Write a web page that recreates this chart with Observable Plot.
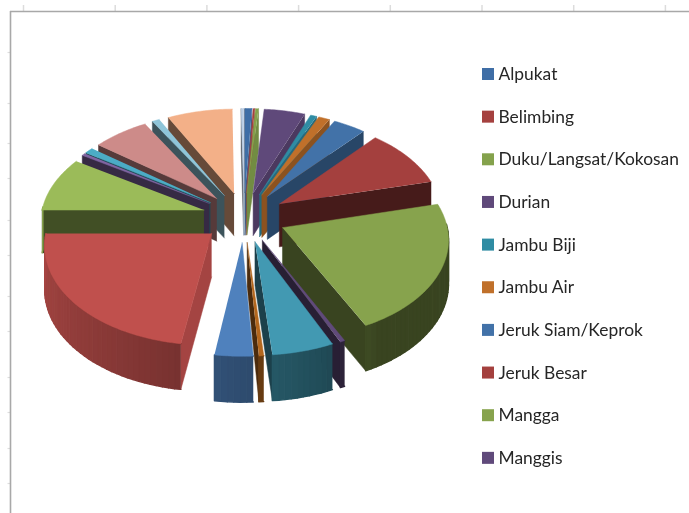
<!DOCTYPE html>
<html><head><meta charset="utf-8">
<script src="https://cdn.jsdelivr.net/npm/d3@7"></script>
<script src="https://cdn.jsdelivr.net/npm/@observablehq/plot@0.6"></script>
<style>html,body{margin:0;padding:0;background:#fff}</style></head>
<body><div id="chart"></div>
<script>
// Legend as visible in the picture (clipped after ten entries)
const legendNames = ["Alpukat","Belimbing","Duku/Langsat/Kokosan","Durian","Jambu Biji","Jambu Air","Jeruk Siam/Keprok","Jeruk Besar","Mangga","Manggis"];
// Slice shares, clockwise from the top (degrees of the pie)
const shares = [2.8,0.7,1.2,16.3,2.5,4.5,13,35,78,1.5,19.5,1.5,12,81.5,32.5,1.5,3.5,22.5,3,26,1];
const sliceColors = ["#3f6ea6","#a5413f","#84a24c","#5f497a","#2f8ca3","#c0702a","#4272a8","#a4403e","#87a34d","#604a7b","#4299b2","#b3671e","#4f81bd","#c0504d","#9bbb59","#8064a2","#4bacc6","#cd8b89","#8ec5d9","#f3b088","#b9cde5"];

const W = 689, H = 513;
const cx = 243.5, cy = 216.5, R = 163, E = 42, tilt = 0.595, persp = 0.1225, depth = 43;
const rad = d => d * Math.PI / 180;
const project = (X, Y, h) => {
  const s = 1 / (1 - persp * Y / 202);
  return [cx + X * s, cy + tilt * Y * s + h * Math.sqrt(s)];
};
const shade = (c, f) => { const q = d3.rgb(c); return d3.rgb(q.r * f, q.g * f, q.b * f).formatHex(); };
const area2 = p => d3.sum(p, (a, i) => { const b = p[(i + 1) % p.length]; return a[0] * b[1] - b[0] * a[1]; });

const arcs = d3.pie().sort(null).value(d => d)(shares);
const slices = arcs.map((a, i) => {
  const a0 = a.startAngle * 180 / Math.PI, a1 = a.endAngle * 180 / Math.PI, m = (a0 + a1) / 2;
  return {i, a0, a1, m, ox: E * Math.sin(rad(m)), oy: -E * Math.cos(rad(m)), c: sliceColors[i], key: -Math.cos(rad(m))};
}).sort((p, q) => p.key - q.key);

const polys = [];
let pid = 0;
const add = (pts, fill, sw) => { pid++; pts.forEach(p => polys.push({x: p[0], y: p[1], id: pid, fill, sw})); };
for (const s of slices) {
  const rim = (t, h) => project(s.ox + R * Math.sin(rad(t)), s.oy - R * Math.cos(rad(t)), h);
  const apex = h => project(s.ox, s.oy, h);
  // radial cut faces
  const sideShade = phi => 0.42 + 0.45 * Math.pow(Math.max(0, Math.sin(rad(phi))), 3);
  const start = [apex(0), rim(s.a0, 0), rim(s.a0, depth), apex(depth)];
  const end = [apex(0), apex(depth), rim(s.a1, depth), rim(s.a1, 0)];
  if (area2(start) < 0) add(start, shade(s.c, sideShade(s.a0 - 90)), 0.5);
  if (area2(end) < 0) add(end, shade(s.c, sideShade(s.a1 + 90)), 0.5);
  // outer wall, in short shaded strips
  const n = Math.max(1, Math.ceil((s.a1 - s.a0) / 2));
  for (let k = 0; k < n; k++) {
    const t0 = s.a0 + (s.a1 - s.a0) * k / n, t1 = s.a0 + (s.a1 - s.a0) * (k + 1) / n, tm = (t0 + t1) / 2;
    if (Math.cos(rad(tm)) > 0.02) continue;
    const f = 0.42 + 0.45 * Math.pow(Math.min(1, Math.max(0, (tm - 150) / 120)), 0.7);
    add([rim(t0, 0), rim(t1, 0), rim(t1, depth), rim(t0, depth)], shade(s.c, f), 1.4);
  }
  // top face
  const top = [apex(0)];
  const m = Math.max(2, Math.ceil(s.a1 - s.a0));
  for (let k = 0; k <= m; k++) top.push(rim(s.a0 + (s.a1 - s.a0) * k / m, 0));
  add(top, s.c, 0.5);
}

const legendRows = legendNames.map((name, i) => ({name, i, yc: 74 + 42.65 * i, c: sliceColors[i]}));
const topTicks = d3.range(8).map(i => 23 + 91.7 * i);
const leftTicks = [52,103,143,178,220,255,296,331,377,412,448,483];

const plot = Plot.plot({
  width: W, height: H, margin: 0,
  x: {domain: [0, W], range: [0, W], axis: null},
  y: {domain: [0, H], range: [0, H], axis: null},
  color: {type: "identity"},
  style: {background: "#fff", filter: "blur(0.6px)"},
  marks: [
    Plot.ruleX(topTicks, {x: d => d, y1: 5, y2: 11, stroke: "#dcdcdc", strokeWidth: 1.5}),
    Plot.ruleY(leftTicks, {y: d => d, x1: 7.5, x2: 10, stroke: "#dedede", strokeWidth: 1.2}),
    Plot.ruleY([11], {x1: 10, x2: W, stroke: "#a8a8a8", strokeWidth: 1.6}),
    Plot.ruleX([10], {y1: 11, y2: H, stroke: "#a8a8a8", strokeWidth: 1.6}),
    Plot.line(polys, {x: "x", y: "y", z: "id", fill: "fill", stroke: "fill", strokeWidth: "sw", curve: "linear"}),
    Plot.rect(legendRows, {x1: 482, x2: 494, y1: d => d.yc - 6, y2: d => d.yc + 6, fill: "c"}),
    Plot.text(legendRows, {x: 498, y: "yc", text: "name", textAnchor: "start", fill: "#262626", fontSize: 17.4, fontFamily: "Lato, 'Open Sans', sans-serif"})
  ]
});
document.getElementById("chart").append(plot);
</script></body></html>
